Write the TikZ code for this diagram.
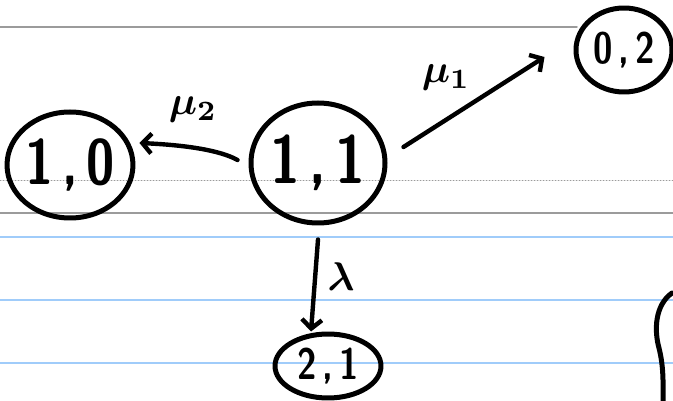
\documentclass[tikz,border=0pt]{standalone}
\usepackage{graphicx}
\usetikzlibrary{arrows.meta,shapes.geometric}
\definecolor{rulegray}{RGB}{155,155,155}
\definecolor{ruleblue}{RGB}{160,204,250}
\newcommand{\hw}[2]{\scalebox{0.8}[1]{\sffamily\bfseries\fontsize{#1}{#1}\selectfont #2}}
\begin{document}
\begin{tikzpicture}[x=1pt,y=-1pt,line cap=round,line join=round,
  state/.style={ellipse,draw=black,line width=5pt,inner sep=0pt},
  arr/.style={line width=4.4pt,-{Straight Barb[length=9pt,width=20pt,line width=4.4pt]}},
  grayrule/.style={draw=rulegray,line width=1.5pt},
  dotrule/.style={draw=rulegray,line width=1pt,dotted},
  bluerule/.style={draw=ruleblue,line width=1.5pt},
  lbl/.style={inner sep=0pt}]
\useasboundingbox (0,0) rectangle (673,401);
% ruled paper
\draw[grayrule] (0,27) -- (577,27);
\draw[grayrule] (0,213) -- (673,213);
\draw[dotrule] (0,181) -- (673,181);
\draw[bluerule] (0,237) -- (673,237);
\draw[bluerule] (0,300) -- (673,300);
\draw[bluerule] (0,363) -- (673,363);
% states
\node[state,minimum width=134pt,minimum height=120pt] (n11) at (318,163) {\hw{68}{1\,,\,1}};
\node[state,minimum width=122pt,minimum height=106pt] (n10) at (70,165) {\hw{64}{1\,,\,0}};
\node[state,minimum width=96pt,minimum height=84pt] (n02) at (624,50) {\hw{44}{0\,,\,2}};
\node[state,minimum width=106pt,minimum height=64pt] (n21) at (328,366) {\hw{44}{2\,,\,1}};
% transitions
\draw[arr] ([shift={(-11,-3)}]n11.west) .. controls +(-18,-10) and +(45,2) .. ([shift={(4,-22)}]n10.east);
\draw[arr] ([shift={(16,-16)}]n11.east) -- ([shift={(-29,7)}]n02.west);
\draw[arr] ([shift={(0,14)}]n11.south) -- ([shift={(-17,0)}]n21.north);
% labels
\node[lbl] (l2) at (193,110) {\scalebox{4}{\boldmath$\mu_2$}};
\node[lbl] (l1) at (446,78) {\scalebox{4}{\boldmath$\mu_1$}};
\node[lbl] (l3) at (341,277) {\scalebox{4}{\boldmath$\lambda$}};
% partial shape at right edge
\draw[line width=5pt] (672,293) .. controls (655,305) and (654,330) .. (659,348) .. controls (664,368) and (663,385) .. (663,401);
\end{tikzpicture}
\end{document}
